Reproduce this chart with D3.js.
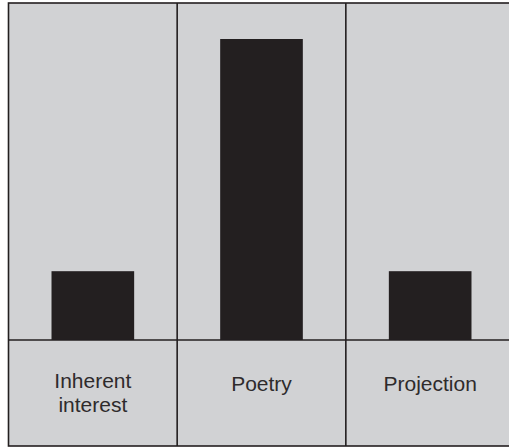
<!DOCTYPE html>
<html lang="en">
  <head>
    <meta charset="utf-8"/>
    <title>Inherent interest, poetry, projection</title>
    <script src="https://cdn.jsdelivr.net/npm/d3@7"></script>
    <style>
      body { margin: 0; background: #fff; }
      svg { display: block; }
      text { font-family: "Liberation Sans", Arial, Helvetica, sans-serif; }
    </style>
  </head>
  <body>
    <div id="chart"></div>

    <script>
     // data
     const categories = ["Inherent interest", "Poetry", "Projection"];
     const labelLines = [["Inherent", "interest"], ["Poetry"], ["Projection"]];
     const values = [16, 70, 16];

     const svgWidth = 509,
           svgHeight = 447;

     // the frame runs off the right edge of the picture
     const frame = { left: 8.5, right: 514.5, top: 3, bottom: 446, base: 340 };
     const ink = "#231f20",
           paper = "#d1d2d4";

     const svg = d3.select("#chart")
                   .append("svg")
                   .attr("width", svgWidth)
                   .attr("height", svgHeight);

     const column = d3.scaleBand()
                      .domain(categories)
                      .range([frame.left, frame.right]);

     const xScale = d3.scaleBand()
                      .domain(categories)
                      .range([frame.left, frame.right])
                      .paddingInner(0.51)
                      .paddingOuter(0.255);

     const yScale = d3.scaleLinear()
                      .domain([0, 70])
                      .range([frame.base, 39]);

     svg.append("rect")
        .attr("x", frame.left)
        .attr("y", frame.top)
        .attr("width", frame.right - frame.left + 10)
        .attr("height", frame.bottom - frame.top)
        .attr("fill", paper)
        .attr("stroke", ink)
        .attr("stroke-width", 1.6);

     svg.selectAll("rect.bar")
        .data(values)
        .enter()
        .append("rect")
        .attr("class", "bar")
        .attr("x", (d, i) => xScale(categories[i]))
        .attr("width", xScale.bandwidth())
        .attr("y", d => yScale(d))
        .attr("height", d => yScale(0) - yScale(d))
        .attr("fill", ink);

     // column dividers
     svg.selectAll("line.divider")
        .data(categories.slice(1))
        .enter()
        .append("line")
        .attr("class", "divider")
        .attr("x1", d => column(d))
        .attr("x2", d => column(d))
        .attr("y1", frame.top)
        .attr("y2", frame.bottom)
        .attr("stroke", ink)
        .attr("stroke-width", 1.6);

     svg.append("line")
        .attr("x1", frame.left)
        .attr("x2", frame.right)
        .attr("y1", yScale(0))
        .attr("y2", yScale(0))
        .attr("stroke", ink)
        .attr("stroke-width", 1.6);

     const labels = svg.selectAll("text.label")
                       .data(labelLines)
                       .enter()
                       .append("text")
                       .attr("class", "label")
                       .attr("text-anchor", "middle")
                       .attr("font-size", 21)
                       .attr("fill", "#2e2b2c")
                       .attr("y", d => d.length > 1 ? 388 : 391);

     labels.selectAll("tspan")
           .data((d, i) => d.map(t => ({ t, c: categories[i] })))
           .enter()
           .append("tspan")
           .attr("x", d => column(d.c) + column.bandwidth() / 2)
           .attr("dy", (d, j) => j ? 24 : 0)
           .text(d => d.t);
    </script>
  </body>
</html>
